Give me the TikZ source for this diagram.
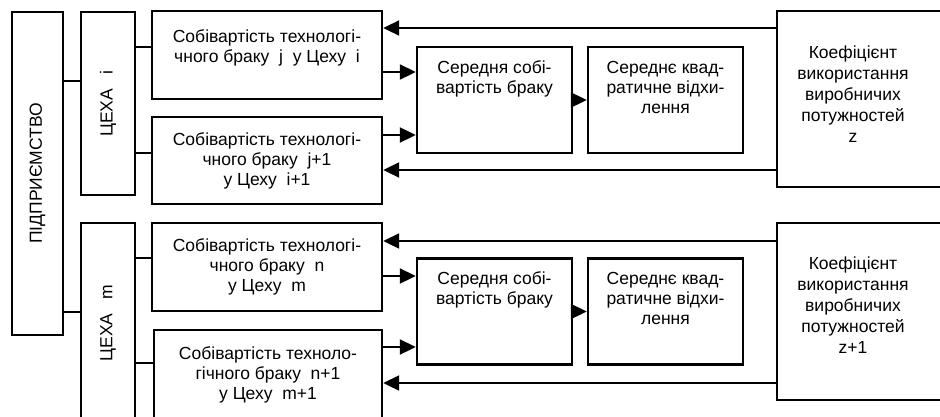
\documentclass[tikz,border=0pt]{standalone}
\usepackage{fontspec}
\setmainfont{Liberation Sans}
\usetikzlibrary{arrows.meta}

\tikzset{
  blok/.style={draw, line width=2.4pt, align=center, inner sep=2pt},
  lacz/.style={line width=2pt},
  strz/.style={lacz, -{Triangle[length=16pt, width=15pt]}},
}

\begin{document}
\begin{tikzpicture}[x=1pt, y=-1pt, font=\fontsize{17.5}{20}\selectfont]
  \useasboundingbox (0,0) rectangle (940,416);
  \clip (0,0) rectangle (940,416);

  % Підприємство і цехи
  \node[blok, minimum width=51, minimum height=323] (pidpr) at (37.5,173.5) {\rotatebox{90}{ПІДПРИЄМСТВО}};
  \node[blok, minimum width=54, minimum height=183] (tsekh1) at (108,103.5) {\rotatebox{90}{ЦЕХА\ \ \ i}};
  \node[blok, minimum width=54, minimum height=200] (tsekh2) at (108,323) {\rotatebox{90}{ЦЕХА\ \ \ m}};

  % Собівартість браку
  \node[blok, minimum width=230, minimum height=88] (sob1) at (267,55)
    {Собівартість технологі-\\чного браку\ \ j\ \ у Цеху\ \ i\rule[-17pt]{0pt}{0pt}};
  \node[blok, minimum width=230, minimum height=87] (sob2) at (267,160.5)
    {Собівартість технологі-\\чного браку\ \ j+1\\у Цеху\ \ i+1};
  \node[blok, minimum width=230, minimum height=88] (sob3) at (267,267)
    {Собівартість технологі-\\чного браку\ \ n\\у Цеху\ \ m};
  \node[blok, minimum width=228, minimum height=90] (sob4) at (268,375)
    {Собівартість техноло-\\гічного браку\ \ n+1\\у Цеху\ \ m+1};

  % Середні і відхилення
  \foreach \g/\y in {1/100, 2/311.5} {
    \node[blok, minimum width=155, minimum height=106] (ser\g) at (494.5,\y)
      {Середня собі-\\вартість браку\\ \strut\\ \strut};
    \node[blok, minimum width=155, minimum height=106] (sq\g) at (665.5,\y)
      {Середнє квад-\\ратичне відхи-\\лення\\ \strut};
    \draw[strz] (ser\g.east) -- (sq\g.west);
  }

  % Коефіцієнт використання
  \foreach \g/\y/\h/\ty/\z in {1/99/176/94/z, 2/311.5/177/305/z+1} {
    \node[blok, minimum width=200, minimum height=\h] (koef\g) at (877,\y) {};
    \node[align=center, font=\fontsize{17.5}{21}\selectfont] (koeft\g) at (853,\ty)
      {Коефіцієнт\\використання\\виробничих\\потужностей\\\z};
  }

  % Лінії зв'язку
  \foreach \c/\y in {tsekh1/81, tsekh2/312} {
    \coordinate (p) at (0,\y);
    \draw[lacz] (p -| pidpr.east) -- (p -| \c.west);
  }
  \foreach \c/\s/\y in {tsekh1/sob1/47, tsekh1/sob2/153, tsekh2/sob3/258, tsekh2/sob4/363} {
    \coordinate (p) at (0,\y);
    \draw[lacz] (p -| \c.east) -- (p -| \s.west);
  }

  % Стрілки
  \foreach \k/\s/\y in {koef1/sob1/28, koef1/sob2/170, koef2/sob3/241, koef2/sob4/383} {
    \coordinate (p) at (0,\y);
    \draw[strz] (p -| \k.west) -- (p -| \s.east);
  }
  \foreach \s/\r/\y in {sob1/ser1/72, sob2/ser1/135, sob3/ser2/276, sob4/ser2/347} {
    \coordinate (p) at (0,\y);
    \draw[strz] (p -| \s.east) -- (p -| \r.west);
  }
\end{tikzpicture}
\end{document}
